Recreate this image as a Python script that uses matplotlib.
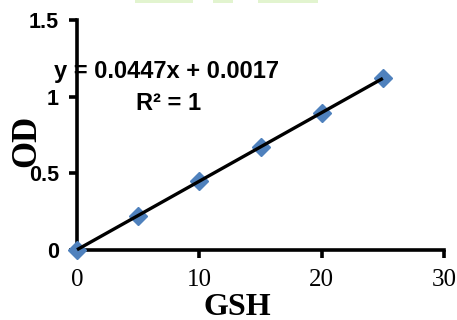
import numpy as np
import matplotlib
matplotlib.use("Agg")
import matplotlib.pyplot as plt
from matplotlib.patches import Rectangle

# data
gsh = [0, 5, 10, 15, 20, 25]
od = [0, 0.225, 0.45, 0.673, 0.896, 1.12]
slope = 0.0447
intercept = 0.0017
r2 = 1
xticks = [0, 10, 20, 30]
yticks = [0, 0.5, 1, 1.5]
ytick_labels = ["0", "0.5", "1", "1.5"]

fig = plt.figure(figsize=(4.57, 3.2), dpi=100)
ax = fig.add_axes([77/457, 1 - 250/320, 367/457, 230/320])

ax.plot(gsh, od, linestyle="none", marker="D", markersize=9,
        color="#4F81BD", clip_on=False, zorder=3)
xfit = np.array([gsh[0], gsh[-1]])
ax.plot(xfit, slope*xfit + intercept, color="black", lw=2.4,
        solid_capstyle="butt", clip_on=False, zorder=4)

ax.set_xlim(0, 30)
ax.set_ylim(0, 1.5)
ax.set_xticks(xticks)
ax.set_yticks(yticks)
ax.set_yticklabels(ytick_labels)

for s in ["top", "right"]:
    ax.spines[s].set_visible(False)
for s in ["left", "bottom"]:
    ax.spines[s].set_linewidth(2.6)

ax.tick_params(axis="x", direction="out", length=6, width=2.6, pad=8,
               labelsize=18)
ax.tick_params(axis="y", direction="out", length=6, width=2.6, pad=7,
               labelsize=15.5)
for lb in ax.get_xticklabels():
    lb.set_fontfamily("Liberation Serif")
for lb in ax.get_yticklabels():
    lb.set_fontfamily("Liberation Sans")
    lb.set_fontweight("bold")

ax.set_xlabel("GSH", fontfamily="Liberation Serif", fontweight="bold",
              fontsize=23)
ax.xaxis.set_label_coords(0.436, -0.185)
ax.set_ylabel("OD", fontfamily="Liberation Serif", fontweight="bold",
              fontsize=25, va="center")
ax.yaxis.set_label_coords(-0.137, 0.474)

eq = "y = %.4fx + %.4f" % (slope, intercept)
ax.text(7.35, 1.163, eq, ha="center", va="center", fontsize=17,
        fontfamily="Liberation Sans", fontweight="bold", zorder=5)
ax.text(7.5, 0.954, "R² = %d" % r2, ha="center", va="center", fontsize=17,
        fontfamily="Liberation Sans", fontweight="bold", zorder=5)

# faint green strip cut off at the top
for x0, w in [(135, 58), (213, 20), (258, 60)]:
    fig.patches.append(Rectangle((x0/457, 1 - 3/320), w/457, 3/320,
                                 transform=fig.transFigure,
                                 color="#e2f4cf", lw=0))

fig.savefig("out.png", dpi=100)
